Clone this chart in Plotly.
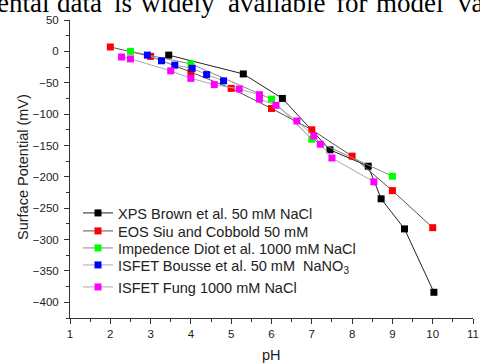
import plotly.graph_objects as go

# ---- data ----
xps_ph = [3.45, 5.3, 6.27, 7.45, 8.4, 8.72, 9.3, 10.03]
xps_mv = [-6, -36, -75, -157, -183, -235, -283, -384]

eos_ph = [2, 3, 4, 5, 6, 7, 8, 9, 10]
eos_mv = [7, -8, -33, -59, -91, -125, -167, -222, -281]

imp_ph = [2.5, 4, 6, 7, 9]
imp_mv = [0, -20, -76, -140, -199]

bou_ph = [2.92, 3.27, 3.6, 4.03, 4.39, 4.81]
bou_mv = [-6, -15, -22, -27, -37, -47]

fung_ph = [2.28, 2.5, 3.5, 4.0, 4.58, 5.2, 5.7, 5.7, 6.11, 6.63, 7.05, 7.21, 7.5, 8.54]
fung_mv = [-9, -12, -31, -43, -53, -60, -69, -76, -86, -111, -135, -148, -170, -208]

names = [
    "XPS Brown et al. 50 mM NaCl",
    "EOS Siu and Cobbold 50 mM",
    "Impedence Diot et al. 1000 mM NaCl",
    "ISFET Bousse et al. 50 mM  NaNO<sub>3</sub>",
    "ISFET Fung 1000 mM NaCl",
]
xs = [xps_ph, eos_ph, imp_ph, bou_ph, fung_ph]
ys = [xps_mv, eos_mv, imp_mv, bou_mv, fung_mv]
marker_colors = ["#000000", "#ff0000", "#00ff00", "#0000ff", "#ff00ff"]
line_colors = ["#222222", "#555555", "#888888", "#aaaaaa", "#aaaaaa"]

y_ticks = [50, 0, -50, -100, -150, -200, -250, -300, -350, -400]
x_ticks = list(range(1, 12))

# cropped line of (justified) body text from the page above the figure
header_words = ["ental", "data", "is", "widely", "available", "for", "model", "valid"]

FONT = "Liberation Sans, Arial, sans-serif"
SERIF = "Liberation Serif, Times New Roman, serif"

# layout geometry (pixels)
W, H = 480, 363
ML, MR, MT, MB = 70, 7, 20, 45
PW, PH = W - ML - MR, H - MT - MB


def px_x(px):
    return (px - ML) / PW


def px_y(py):
    return (H - MB - py) / PH


legend_centers = [213, 231, 248, 265, 287]
header_lefts = [-5, 55, 112, 139, 226, 334, 374, 456]

fig = go.Figure()
for i, (n, x, y, mc, lc) in enumerate(zip(names, xs, ys, marker_colors, line_colors)):
    fig.add_trace(go.Scatter(
        x=x, y=y, name=n, mode="lines+markers",
        line=dict(color=lc, width=1),
        marker=dict(symbol="square", size=7, color=mc, line=dict(width=0)),
        legend="legend" if i == 0 else f"legend{i + 1}",
    ))

axis_common = dict(
    showline=True, linecolor="#333333", linewidth=1,
    ticks="outside", ticklen=5, tickwidth=1, tickcolor="#333333",
    showgrid=False, zeroline=False, mirror=False, automargin=False,
    tickfont=dict(family=FONT, size=11.5, color="#222222"),
)

fig.update_xaxes(
    range=[1, 11], tickvals=x_ticks,
    minor=dict(ticks="outside", ticklen=3, dtick=0.5, tickcolor="#333333", showgrid=False),
    **axis_common,
)
fig.update_yaxes(
    range=[-425, 50], tickvals=y_ticks,
    minor=dict(ticks="outside", ticklen=3, dtick=25, tickcolor="#333333", showgrid=False),
    ticklabelstandoff=3,
    **axis_common,
)

legend_style = dict(
    xanchor="left", yanchor="middle",
    bgcolor="rgba(0,0,0,0)", borderwidth=0,
    font=dict(family=FONT, size=14.5, color="#222222"),
    tracegroupgap=0, itemwidth=30,
)
legends = {}
for i, yc in enumerate(legend_centers):
    key = "legend" if i == 0 else f"legend{i + 1}"
    legends[key] = dict(x=px_x(78), y=px_y(yc), **legend_style)

annotations = [
    dict(
        text=w, xref="paper", yref="paper", x=px_x(lx), y=px_y(20),
        xanchor="left", yanchor="bottom", showarrow=False,
        font=dict(family=SERIF, size=27, color="#000000"),
    )
    for w, lx in zip(header_words, header_lefts)
]
annotations += [
    dict(
        text="pH", xref="paper", yref="paper", x=px_x(271), y=px_y(355),
        xanchor="center", yanchor="middle", showarrow=False,
        font=dict(family=FONT, size=14.5, color="#222222"),
    ),
    dict(
        text="Surface Potential (mV)", xref="paper", yref="paper",
        x=px_x(23), y=px_y(167), textangle=-90,
        xanchor="center", yanchor="middle", showarrow=False,
        font=dict(family=FONT, size=14.5, color="#222222"),
    ),
]

fig.update_layout(
    width=W, height=H,
    margin=dict(l=ML, r=MR, t=MT, b=MB),
    paper_bgcolor="white", plot_bgcolor="white",
    showlegend=True,
    annotations=annotations,
    **legends,
)

fig.write_html(
    "out.html",
    config={"displayModeBar": False},
    post_script="document.body.style.margin='0';document.body.style.overflow='hidden';",
)
